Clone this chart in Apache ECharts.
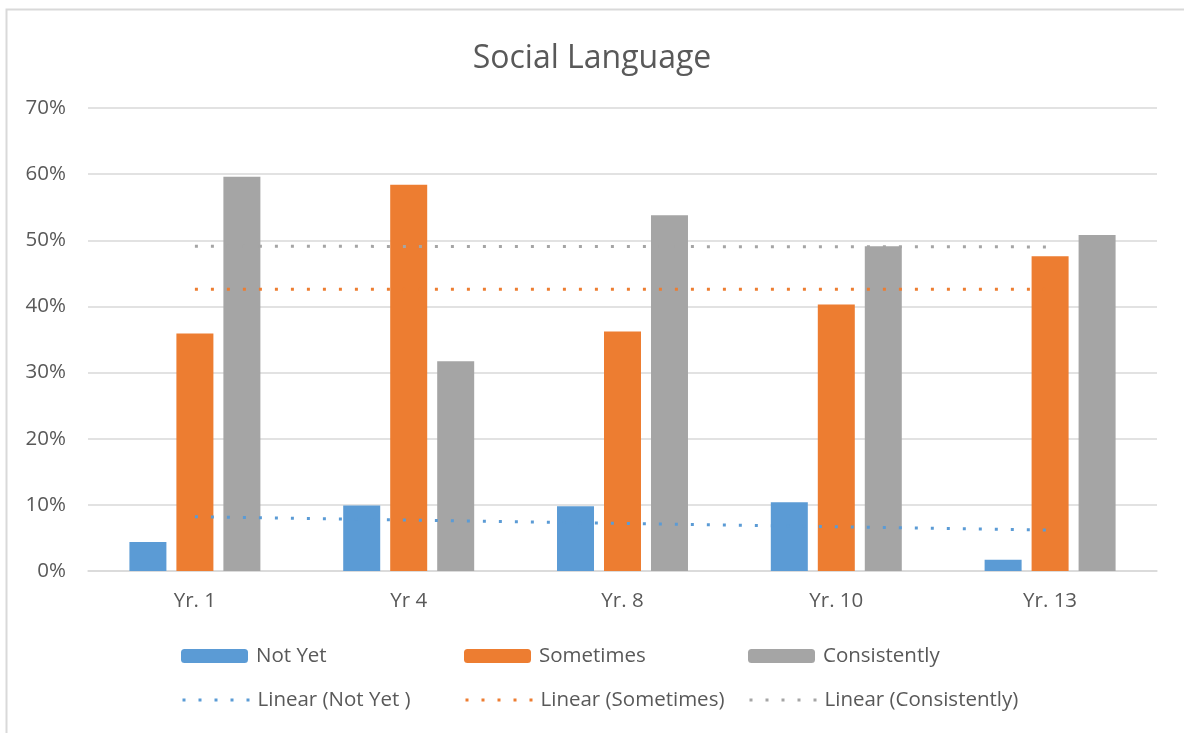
<!DOCTYPE html>
<html>
<head>
<meta charset="utf-8">
<script src="https://cdn.jsdelivr.net/npm/echarts@6/dist/echarts.min.js"></script>
<style>html,body{margin:0;padding:0;background:#fff}#c{width:1184px;height:733px}</style>
</head>
<body>
<div id="c"></div>
<script>
const categories = ['Yr. 1', 'Yr 4', 'Yr. 8', 'Yr. 10', 'Yr. 13'];
const notYet = [4.4, 9.9, 9.8, 10.4, 1.7];
const sometimes = [35.9, 58.4, 36.2, 40.3, 47.6];
const consistently = [59.6, 31.7, 53.8, 49.1, 50.8];
// trendline endpoints (first and last category)
const trendNotYet = [8.2, null, null, null, 6.2];
const trendSometimes = [42.6, null, null, null, 42.6];
const trendConsistently = [49.1, null, null, null, 49.0];
const yTicks = [0, 10, 20, 30, 40, 50, 60, 70];

const FONT = 'Open Sans';
const TXT = '#595959';
const C_BLUE = '#5b9bd5', C_ORANGE = '#ed7d31', C_GRAY = '#a5a5a5';

const chart = echarts.init(document.getElementById('c'), null, {renderer: 'canvas'});

function legendAt(name, left, top) {
  return {
    data: [name], left: left, top: top, orient: 'horizontal',
    itemWidth: 67, itemHeight: 14, itemGap: 0, padding: 0,
    itemStyle: {opacity: 0},
    lineStyle: {width: 3, type: [3, 13], cap: 'butt'},
    textStyle: {color: TXT, fontFamily: FONT, fontSize: 20.5, lineHeight: 22, padding: [0, 0, 0, 3]},
    selectedMode: false
  };
}
function barLegendAt(name, left, top) {
  const l = legendAt(name, left, top);
  delete l.itemStyle;
  delete l.lineStyle;
  return l;
}
function trend(name, data, color) {
  return {
    name: name, type: 'line', data: data, connectNulls: true, symbol: 'none',
    lineStyle: {color: color, width: 3, type: [3, 13], cap: 'butt'},
    itemStyle: {color: color}, z: 5, silent: true
  };
}

chart.setOption({
  animation: false,
  backgroundColor: '#fff',
  title: {
    text: 'Social Language', left: 'center', top: 38,
    textStyle: {color: TXT, fontFamily: FONT, fontSize: 32, fontWeight: 'normal'}
  },
  graphic: [{
    type: 'rect', shape: {x: 6.5, y: 9.5, width: 1200, height: 800},
    style: {fill: 'none', stroke: '#d9d9d9', lineWidth: 2}, silent: true, z: -1
  }],
  legend: [
    barLegendAt('Not Yet', 181, 645),
    barLegendAt('Sometimes', 464, 645),
    barLegendAt('Consistently', 748, 645),
    legendAt('Linear (Not Yet )', 181, 689),
    legendAt('Linear (Sometimes)', 464, 689),
    legendAt('Linear (Consistently)', 748, 689)
  ],
  grid: {left: 88, right: 27, top: 108, bottom: 162, containLabel: false},
  xAxis: {
    type: 'category', data: categories, boundaryGap: true,
    axisLine: {lineStyle: {color: '#d9d9d9', width: 1.5}},
    axisTick: {show: false},
    axisLabel: {color: TXT, fontFamily: FONT, fontSize: 20.5, margin: 20}
  },
  yAxis: {
    type: 'value', min: 0, max: 70, interval: 10,
    axisLine: {show: false}, axisTick: {show: false},
    splitLine: {lineStyle: {color: '#d9d9d9', width: 1.5}},
    axisLabel: {
      color: TXT, fontFamily: FONT, fontSize: 20.5, margin: 22,
      formatter: v => (yTicks.includes(v) ? v + '%' : '')
    }
  },
  series: [
    {name: 'Not Yet', type: 'bar', data: notYet, barWidth: 37, barGap: '27%', itemStyle: {color: C_BLUE}},
    {name: 'Sometimes', type: 'bar', data: sometimes, barWidth: 37, barGap: '27%', itemStyle: {color: C_ORANGE}},
    {name: 'Consistently', type: 'bar', data: consistently, barWidth: 37, barGap: '27%', itemStyle: {color: C_GRAY}},
    trend('Linear (Not Yet )', trendNotYet, C_BLUE),
    trend('Linear (Sometimes)', trendSometimes, C_ORANGE),
    trend('Linear (Consistently)', trendConsistently, C_GRAY)
  ]
});
</script>
</body>
</html>
